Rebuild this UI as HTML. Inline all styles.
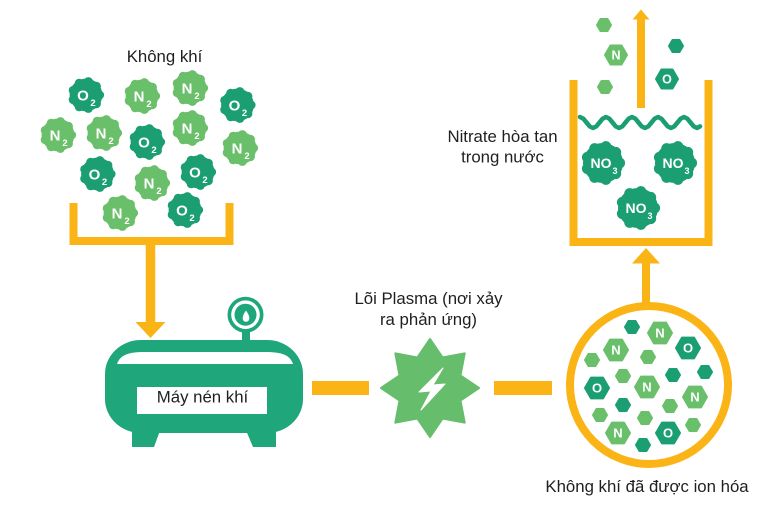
<!DOCTYPE html>
<html><head><meta charset="utf-8"><style>
html,body{margin:0;padding:0;background:#fff;}
svg{display:block;}
text{font-family:"Liberation Sans",Arial,sans-serif;}
.lbl{font-size:16.8px;fill:#1f1f1f;}
.w{fill:#fff;font-weight:bold;}
</style></head><body>
<svg width="771" height="511" viewBox="0 0 771 511" xmlns="http://www.w3.org/2000/svg">
<defs>
<g id="blob">
<circle cx="0" cy="0" r="16.4"/>
<circle cx="13.6" cy="0" r="4.5"/>
<circle cx="10.42" cy="8.74" r="4.5"/>
<circle cx="2.36" cy="13.39" r="4.5"/>
<circle cx="-6.8" cy="11.78" r="4.5"/>
<circle cx="-12.78" cy="4.65" r="4.5"/>
<circle cx="-12.78" cy="-4.65" r="4.5"/>
<circle cx="-6.8" cy="-11.78" r="4.5"/>
<circle cx="2.36" cy="-13.39" r="4.5"/>
<circle cx="10.42" cy="-8.74" r="4.5"/>
</g>
<polygon id="h12" points="12,0 6,10.4 -6,10.4 -12,0 -6,-10.4 6,-10.4"/>
<polygon id="h11" points="11,0 5.5,9.53 -5.5,9.53 -11,0 -5.5,-9.53 5.5,-9.53"/>
<polygon id="h7" points="7,0 3.5,6.06 -3.5,6.06 -7,0 -3.5,-6.06 3.5,-6.06"/>
</defs>
<rect width="771" height="511" fill="#fff"/>

<!-- Không khí label -->
<text class="lbl" x="164.5" y="62" text-anchor="middle">Không khí</text>

<!-- air molecules -->
<g>
<use href="#blob" x="86" y="95" fill="#1a9e72"/>
<use href="#blob" x="142" y="96" fill="#6abf6a"/>
<use href="#blob" x="190" y="88" fill="#6abf6a"/>
<use href="#blob" x="237.5" y="105" fill="#1a9e72"/>
<use href="#blob" x="58" y="135" fill="#6abf6a"/>
<use href="#blob" x="104" y="133" fill="#6abf6a"/>
<use href="#blob" x="147" y="142" fill="#1a9e72"/>
<use href="#blob" x="190" y="128" fill="#6abf6a"/>
<use href="#blob" x="240" y="148" fill="#6abf6a"/>
<use href="#blob" x="97.5" y="174" fill="#1a9e72"/>
<use href="#blob" x="152" y="183" fill="#6abf6a"/>
<use href="#blob" x="198" y="172" fill="#1a9e72"/>
<use href="#blob" x="120" y="213" fill="#6abf6a"/>
<use href="#blob" x="185" y="210" fill="#1a9e72"/>
</g>
<g class="w">
<text x="83" y="100.5" font-size="15" text-anchor="middle" class="w">O</text><text x="93" y="106" font-size="9.5" text-anchor="middle" class="w">2</text>
<text x="139" y="101.5" font-size="15" text-anchor="middle" class="w">N</text><text x="149" y="107" font-size="9.5" text-anchor="middle" class="w">2</text>
<text x="187" y="93.5" font-size="15" text-anchor="middle" class="w">N</text><text x="197" y="99" font-size="9.5" text-anchor="middle" class="w">2</text>
<text x="234.5" y="110.5" font-size="15" text-anchor="middle" class="w">O</text><text x="244.5" y="116" font-size="9.5" text-anchor="middle" class="w">2</text>
<text x="55" y="140.5" font-size="15" text-anchor="middle" class="w">N</text><text x="65" y="146" font-size="9.5" text-anchor="middle" class="w">2</text>
<text x="101" y="138.5" font-size="15" text-anchor="middle" class="w">N</text><text x="111" y="144" font-size="9.5" text-anchor="middle" class="w">2</text>
<text x="144" y="147.5" font-size="15" text-anchor="middle" class="w">O</text><text x="154" y="153" font-size="9.5" text-anchor="middle" class="w">2</text>
<text x="187" y="133.5" font-size="15" text-anchor="middle" class="w">N</text><text x="197" y="139" font-size="9.5" text-anchor="middle" class="w">2</text>
<text x="237" y="153.5" font-size="15" text-anchor="middle" class="w">N</text><text x="247" y="159" font-size="9.5" text-anchor="middle" class="w">2</text>
<text x="94.5" y="179.5" font-size="15" text-anchor="middle" class="w">O</text><text x="104.5" y="185" font-size="9.5" text-anchor="middle" class="w">2</text>
<text x="149" y="188.5" font-size="15" text-anchor="middle" class="w">N</text><text x="159" y="194" font-size="9.5" text-anchor="middle" class="w">2</text>
<text x="195" y="177.5" font-size="15" text-anchor="middle" class="w">O</text><text x="205" y="183" font-size="9.5" text-anchor="middle" class="w">2</text>
<text x="117" y="218.5" font-size="15" text-anchor="middle" class="w">N</text><text x="127" y="224" font-size="9.5" text-anchor="middle" class="w">2</text>
<text x="182" y="215.5" font-size="15" text-anchor="middle" class="w">O</text><text x="192" y="221" font-size="9.5" text-anchor="middle" class="w">2</text>
</g>

<!-- funnel -->
<polyline points="73.5,203 73.5,241 229.5,241 229.5,203" fill="none" stroke="#fbb416" stroke-width="8"/>
<line x1="150.5" y1="241" x2="150.5" y2="324" stroke="#fbb416" stroke-width="9.5"/>
<polygon points="135.5,322 165.5,322 150.5,338" fill="#fbb416"/>

<!-- compressor -->
<rect x="242" y="328" width="8" height="16" fill="#1fa67a"/>
<circle cx="245.5" cy="314.7" r="18" fill="#1fa67a"/>
<circle cx="245.5" cy="314.7" r="14.3" fill="#fff"/>
<circle cx="245.5" cy="314.7" r="11" fill="#1fa67a"/>
<path d="M246,310.5 C248.3,313.8 249.3,316 249.3,318.5 A3.3,3.3 0 0 1 242.7,318.5 C242.7,316 243.7,313.8 246,310.5Z" fill="#fff"/>
<rect x="105" y="340" width="198" height="93" rx="36" ry="34" fill="#1fa67a"/>
<polygon points="132,428 161,428 154,447 132,447" fill="#1fa67a"/>
<polygon points="245,428 276,428 276,447 253,447" fill="#1fa67a"/>
<path d="M117,364 C120,355 128,352 145,352 H265 C282,352 290,355 293,364 Z" fill="#fff"/>
<rect x="137" y="387" width="130" height="27" fill="#fff"/>
<text class="lbl" x="202.5" y="402.5" text-anchor="middle">Máy nén khí</text>

<!-- dashes -->
<rect x="312" y="381" width="57" height="14" fill="#fbb416"/>
<rect x="494" y="381" width="58" height="14" fill="#fbb416"/>

<!-- plasma label -->
<text class="lbl" x="428.5" y="304" text-anchor="middle">Lõi Plasma (nơi xảy</text>
<text class="lbl" x="428.5" y="325" text-anchor="middle">ra phản ứng)</text>

<!-- star -->
<polygon points="430,339 442.6,357.5 464.7,353.3 460.5,375.4 479,388 460.5,400.6 464.7,422.7 442.6,418.5 430,437 417.4,418.5 395.3,422.7 399.5,400.6 381,388 399.5,375.4 395.3,353.3 417.4,357.5" fill="#66bd6b" stroke="#66bd6b" stroke-width="2" stroke-linejoin="round"/>
<polygon points="443,368 419,392 431,391 421,410 445,384 433,385" fill="#fff" stroke="#fff" stroke-width="1" stroke-linejoin="round"/>

<!-- ionized circle -->
<circle cx="649" cy="385" r="79" fill="#fff" stroke="#fbb416" stroke-width="8"/>
<g stroke-linejoin="round" stroke-width="2">
<use href="#h7" x="632" y="327" fill="#1a9e72" stroke="#1a9e72"/>
<use href="#h12" x="660" y="333" fill="#6abf6a" stroke="#6abf6a"/>
<use href="#h12" x="616" y="350" fill="#6abf6a" stroke="#6abf6a"/>
<use href="#h12" x="688" y="348" fill="#1a9e72" stroke="#1a9e72"/>
<use href="#h7" x="592" y="360" fill="#6abf6a" stroke="#6abf6a"/>
<use href="#h7" x="648" y="357" fill="#6abf6a" stroke="#6abf6a"/>
<use href="#h7" x="623" y="376" fill="#6abf6a" stroke="#6abf6a"/>
<use href="#h7" x="673" y="375" fill="#1a9e72" stroke="#1a9e72"/>
<use href="#h7" x="705" y="372" fill="#1a9e72" stroke="#1a9e72"/>
<use href="#h12" x="597" y="388" fill="#1a9e72" stroke="#1a9e72"/>
<use href="#h12" x="647" y="387" fill="#6abf6a" stroke="#6abf6a"/>
<use href="#h12" x="695" y="397" fill="#6abf6a" stroke="#6abf6a"/>
<use href="#h7" x="623" y="405" fill="#1a9e72" stroke="#1a9e72"/>
<use href="#h7" x="670" y="406" fill="#6abf6a" stroke="#6abf6a"/>
<use href="#h7" x="600" y="415" fill="#6abf6a" stroke="#6abf6a"/>
<use href="#h7" x="645" y="418" fill="#6abf6a" stroke="#6abf6a"/>
<use href="#h7" x="693" y="425" fill="#6abf6a" stroke="#6abf6a"/>
<use href="#h12" x="618" y="433" fill="#6abf6a" stroke="#6abf6a"/>
<use href="#h12" x="668" y="433" fill="#1a9e72" stroke="#1a9e72"/>
<use href="#h7" x="643" y="445" fill="#1a9e72" stroke="#1a9e72"/>
</g>
<g font-size="13" text-anchor="middle">
<text x="660" y="337.7" class="w">N</text>
<text x="616" y="354.7" class="w">N</text>
<text x="688" y="352.7" class="w">O</text>
<text x="597" y="392.7" class="w">O</text>
<text x="647" y="391.7" class="w">N</text>
<text x="695" y="401.7" class="w">N</text>
<text x="618" y="437.7" class="w">N</text>
<text x="668" y="437.7" class="w">O</text>
</g>
<text class="lbl" x="647" y="492" text-anchor="middle">Không khí đã được ion hóa</text>

<!-- arrow up to beaker -->
<line x1="646" y1="262" x2="646" y2="304" stroke="#fbb416" stroke-width="8"/>
<polygon points="632,263.5 660,263.5 646,248" fill="#fbb416"/>

<!-- beaker -->
<polyline points="573.5,80 573.5,242 708.5,242 708.5,80" fill="none" stroke="#fbb416" stroke-width="8"/>
<polyline points="580,117 583.25,118.6 586.5,122.5 589.75,126.4 593,128 596.25,126.4 599.5,122.5 602.75,118.6 606,117 609.25,118.6 612.5,122.5 615.75,126.4 619,128 622.25,126.4 625.5,122.5 628.75,118.6 632,117 635.25,118.6 638.5,122.5 641.75,126.4 645,128 648.25,126.4 651.5,122.5 654.75,118.6 658,117 661.25,118.6 664.5,122.5 667.75,126.4 671,128 674.25,126.4 677.5,122.5 680.75,118.6 684,117 687.25,118.6 690.5,122.5 693.75,126.4 697,128 700,126.4" fill="none" stroke="#1a9e72" stroke-width="4.5" stroke-linecap="round" stroke-linejoin="round"/>
<use href="#blob" x="603" y="163" fill="#1a9e72" transform="translate(603,163) scale(1.22) translate(-603,-163)"/>
<use href="#blob" x="675" y="163" fill="#1a9e72" transform="translate(675,163) scale(1.22) translate(-675,-163)"/>
<use href="#blob" x="638" y="208" fill="#1a9e72" transform="translate(638,208) scale(1.22) translate(-638,-208)"/>
<text x="601" y="168" font-size="14" text-anchor="middle" class="w">NO</text><text x="615" y="174" font-size="9" text-anchor="middle" class="w">3</text>
<text x="673" y="168" font-size="14" text-anchor="middle" class="w">NO</text><text x="687" y="174" font-size="9" text-anchor="middle" class="w">3</text>
<text x="636" y="213" font-size="14" text-anchor="middle" class="w">NO</text><text x="650" y="219" font-size="9" text-anchor="middle" class="w">3</text>

<text class="lbl" x="502.5" y="142" text-anchor="middle">Nitrate hòa tan</text>
<text class="lbl" x="502.5" y="162.5" text-anchor="middle">trong nước</text>

<!-- top arrow and particles -->
<line x1="641" y1="17" x2="641" y2="108" stroke="#fbb416" stroke-width="8"/>
<polygon points="632.5,19.5 649.5,19.5 641,9.5" fill="#fbb416"/>
<g stroke-linejoin="round" stroke-width="2">
<use href="#h7" x="604" y="25" fill="#6abf6a" stroke="#6abf6a"/>
<use href="#h11" x="616" y="55" fill="#6abf6a" stroke="#6abf6a"/>
<use href="#h7" x="605" y="87" fill="#6abf6a" stroke="#6abf6a"/>
<use href="#h7" x="676" y="46" fill="#1a9e72" stroke="#1a9e72"/>
<use href="#h11" x="667" y="79" fill="#1a9e72" stroke="#1a9e72"/>
</g>
<text x="616" y="59.5" font-size="12.5" text-anchor="middle" class="w">N</text>
<text x="667" y="83.5" font-size="12.5" text-anchor="middle" class="w">O</text>
</svg>
</body></html>
